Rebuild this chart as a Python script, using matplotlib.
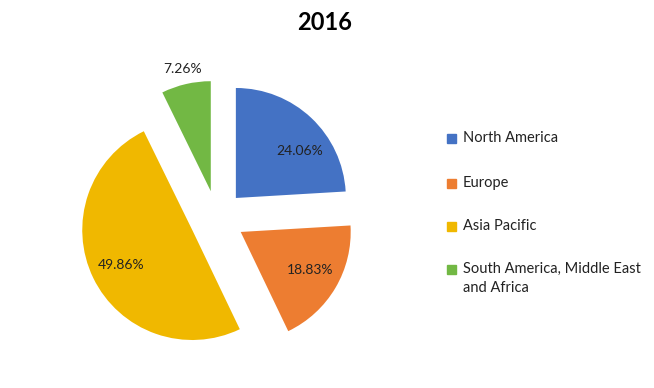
import numpy as np
import matplotlib.pyplot as plt
from matplotlib.patches import Rectangle

plt.rcParams['font.family'] = ['Lato', 'DejaVu Sans']

regions = ['North America', 'Europe', 'Asia Pacific', 'South America, Middle East\nand Africa']
shares = [24.06, 18.83, 49.86, 7.26]
colors = ['#4472C4', '#ED7D31', '#F0B800', '#72B844']
title = '2016'

W, H = 654, 388
fig = plt.figure(figsize=(W / 100, H / 100), dpi=100)
fig.patch.set_facecolor('white')

# pie center and radius in pixels
cx, cy, R = 217, 218, 110
ax = fig.add_axes([0, 0, 1, 1])
wedges, _, autotexts = ax.pie(shares, colors=colors, startangle=90, counterclock=False,
                              explode=[0.25] * len(shares), autopct='%.2f%%',
                              pctdistance=0.72, textprops={'fontsize': 10, 'color': '#222222'},
                              wedgeprops={'linewidth': 0})
ax.set_xlim(-cx / R, (W - cx) / R)
ax.set_ylim(-(H - cy) / R, cy / R)
ax.axis('off')

# label placement tweaks (distance from slice tip, angle shift in degrees)
label_dist = [0.72, 0.72, 0.72, 1.14]
label_shift = [-10, 2, 0, 0]
for w, t, d, s in zip(wedges, autotexts, label_dist, label_shift):
    mid = np.deg2rad((w.theta1 + w.theta2) / 2 + s)
    t.set_position((w.center[0] + d * np.cos(mid), w.center[1] + d * np.sin(mid)))

fig.text(0.497, 1 - 22 / H, title, ha='center', va='center', fontsize=17, fontweight='bold')

# legend
rows_y = [138, 183, 226, 269]
for lab, col, y in zip(regions, colors, rows_y):
    fig.patches.append(Rectangle((447 / W, 1 - (y + 5) / H), 9 / W, 9 / H,
                                 transform=fig.transFigure, color=col, figure=fig))
    lines = lab.split('\n')
    for i, line in enumerate(lines):
        fig.text(463 / W, 1 - (y + 19 * i) / H, line, ha='left', va='center',
                 fontsize=10.5, color='#222222')

fig.savefig('out.png', dpi=100)
